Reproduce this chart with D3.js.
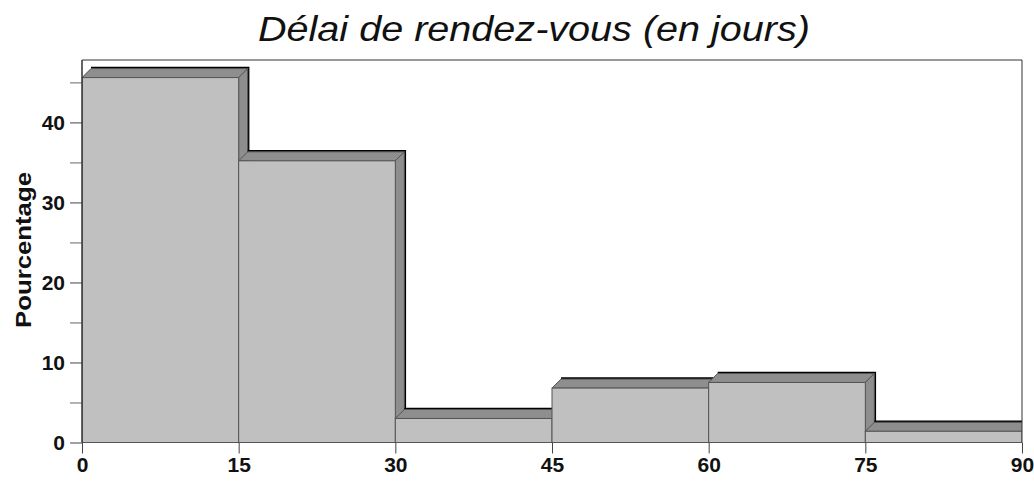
<!DOCTYPE html>
<html><head><meta charset="utf-8">
<script src="https://cdn.jsdelivr.net/npm/d3@7"></script>
<style>body{margin:0;background:#fff}svg{display:block}</style>
</head><body><svg id="c" width="1034" height="483"></svg>
<script>
const binStarts = [0, 15, 30, 45, 60, 75];
const binEnds = [15, 30, 45, 60, 75, 90];
const percentages = [45.6, 35.2, 3.0, 6.8, 7.5, 1.4];
const xTicks = [0, 15, 30, 45, 60, 75, 90];
const yMajor = [0, 10, 20, 30, 40];
const yMinor = [5, 15, 25, 35, 45];
const title = "Délai de rendez-vous (en jours)";
const yLabel = "Pourcentage";

const svg = d3.select("#c");
const L = 82, R = 1022, T = 60, B = 442.5;
const x = d3.scaleLinear().domain([0, 90]).range([L, R]);
const y = d3.scaleLinear().domain([0, 47.8]).range([B, T]);
const d = 9;
const FF = "Liberation Sans, Arial, sans-serif";

svg.append("defs").append("clipPath").attr("id","pc")
  .append("rect").attr("x",L).attr("y",T).attr("width",R-L).attr("height",B-T+1);

const g = svg.append("g").attr("clip-path","url(#pc)");
percentages.forEach((v,i)=>{
  const x0 = x(binStarts[i]), x1 = x(binEnds[i]), yt = y(v), yb = y(0);
  g.append("path").attr("d",`M${x0+d},${yt-d}L${x1+d},${yt-d}L${x1+d},${yb}`)
    .attr("fill","none").attr("stroke","#000").attr("stroke-width",3.5);
  g.append("path").attr("d",`M${x0},${yt}L${x0+d},${yt-d}L${x1+d},${yt-d}L${x1},${yt}Z`)
    .attr("fill","#8e8e8e").attr("stroke","#555").attr("stroke-width",1);
  g.append("path").attr("d",`M${x1},${yt}L${x1+d},${yt-d}L${x1+d},${yb}L${x1},${yb}Z`)
    .attr("fill","#8e8e8e").attr("stroke","#555").attr("stroke-width",1);
  g.append("rect").attr("x",x0).attr("y",yt).attr("width",x1-x0).attr("height",yb-yt)
    .attr("fill","#c0c0c0").attr("stroke","#555").attr("stroke-width",1);
});

svg.append("path").attr("d",`M${L},${B}L${L},${T}L${R},${T}L${R},${B}`)
  .attr("fill","none").attr("stroke","#333").attr("stroke-width",1);

const xAxis = d3.axisBottom(x).tickValues(xTicks).tickSize(11).tickPadding(4);
const xg = svg.append("g").attr("transform",`translate(0,${B})`).call(xAxis);
xg.select(".domain").remove();
xg.selectAll("line").attr("stroke","#444");
xg.selectAll("text").attr("font-family",FF).style("font-size","21px")
  .attr("font-weight","bold").attr("fill","#111");

const yAxis = d3.axisLeft(y).tickValues(yMajor).tickSize(12).tickPadding(5);
const yg = svg.append("g").attr("transform",`translate(${L},0)`).call(yAxis);
yg.select(".domain").remove();
yg.selectAll("line").attr("stroke","#444");
yg.selectAll("text").attr("font-family",FF).style("font-size","21px")
  .attr("font-weight","bold").attr("fill","#111");
const ym = d3.axisLeft(y).tickValues(yMinor).tickSize(12).tickFormat("");
const ymg = svg.append("g").attr("transform",`translate(${L},0)`).call(ym);
ymg.select(".domain").remove();
ymg.selectAll("line").attr("stroke","#666");

svg.append("line").attr("x1",L).attr("x2",L).attr("y1",T).attr("y2",B).attr("stroke","#333");

svg.append("text").attr("x",534).attr("y",41).attr("text-anchor","middle")
  .attr("font-family",FF).attr("font-style","italic")
  .style("font-size","35px").attr("fill","#111")
  .attr("textLength",552).attr("lengthAdjust","spacingAndGlyphs").text(title);

svg.append("text").attr("transform",`translate(31,250) rotate(-90)`)
  .attr("text-anchor","middle").attr("font-family",FF)
  .attr("font-weight","bold").style("font-size","22px").attr("fill","#111")
  .attr("textLength",156).attr("lengthAdjust","spacingAndGlyphs").text(yLabel);
</script></body></html>
